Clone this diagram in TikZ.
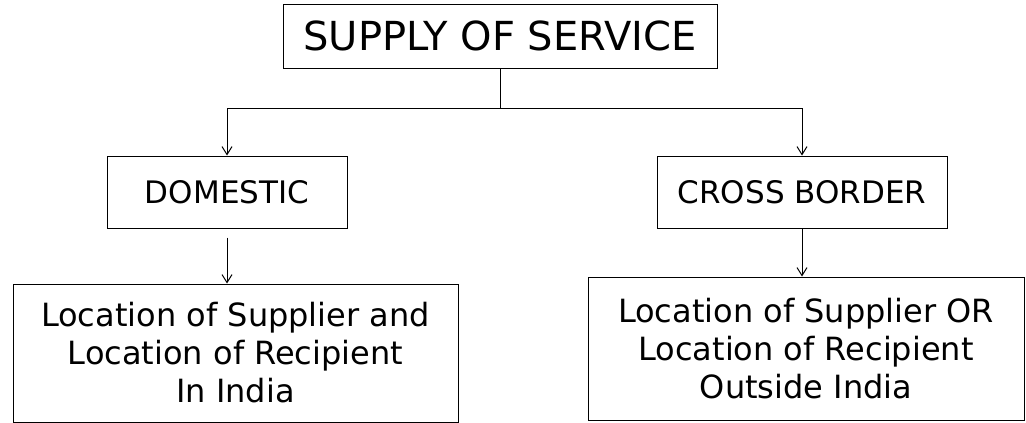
\documentclass[tikz,border=0pt]{standalone}
\usepackage{fontspec}
\setmainfont{DejaVu Sans}
\usetikzlibrary{arrows.meta}
\begin{document}
\begin{tikzpicture}[x=1pt,y=-1pt,
  every node/.style={draw,line width=1pt,inner sep=0pt,align=center},
  link/.style={line width=1pt},
  arr/.style={line width=1pt,-{Straight Barb[length=8pt,width=10pt,line width=1pt]}},
  title/.style={font=\fontsize{40}{44}\selectfont},
  mid/.style={font=\fontsize{31}{35}\selectfont},
  leaf/.style={font=\fontsize{32}{38}\selectfont}]
\useasboundingbox (0,0) rectangle (1026,423);
% boxes
\node[title,minimum width=434pt,minimum height=64pt] (top) at (500,36) {SUPPLY OF SERVICE};
\node[mid,minimum width=240pt,minimum height=72pt] (dom) at (227,192) {DOMESTIC};
\node[mid,minimum width=290pt,minimum height=72pt] (cross) at (802,192) {CROSS BORDER};
\node[leaf,minimum width=445pt,minimum height=138pt] (locin) at (235.5,353)
  {Location of Supplier and\\Location of Recipient\\In India};
\node[leaf,minimum width=436pt,minimum height=143pt] (locout) at (806,348.5)
  {Location of Supplier OR\\Location of Recipient\\Outside India};
% connectors
\coordinate (level) at (0,108);
\coordinate (split) at (top.south |- level);
\draw[link] (top.south) -- (split);
\draw[arr] (split) -| (dom.north);
\draw[arr] (split) -| (cross.north);
\draw[arr] (dom.south) ++(0,9) coordinate (dstart) -- (dstart |- locin.north);
\draw[arr] (cross.south) -- (cross.south |- locout.north);
\end{tikzpicture}
\end{document}
